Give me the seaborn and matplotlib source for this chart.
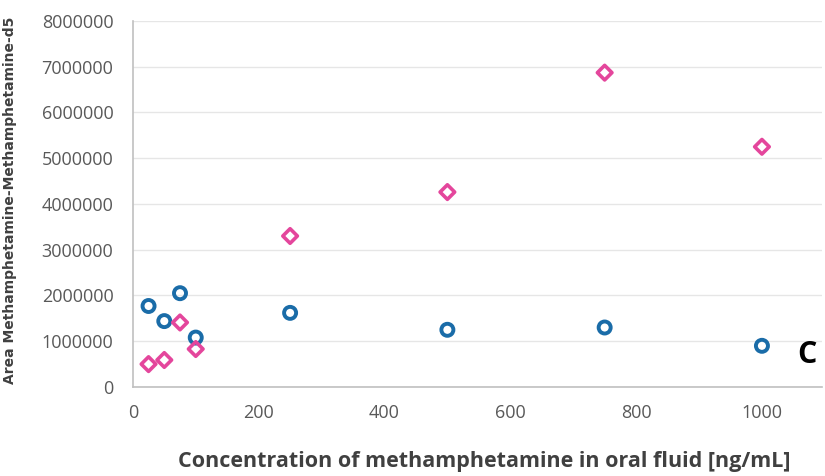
import numpy as np
import pandas as pd
import matplotlib
matplotlib.use("Agg")
import matplotlib.pyplot as plt
import seaborn as sns

# concentrations [ng/mL]
conc = [25, 50, 75, 100, 250, 500, 750, 1000]
# peak areas
area_blue = [1770000, 1440000, 2050000, 1080000, 1620000, 1250000, 1300000, 900000]
area_pink = [500000, 590000, 1410000, 830000, 3300000, 4260000, 6870000, 5250000]

blue = "#1a6ca8"
pink = "#e4469c"

df = pd.DataFrame({"conc": conc, "blue": area_blue, "pink": area_pink})

sns.set_theme(style="white")
plt.rcParams["font.family"] = ["Open Sans", "DejaVu Sans"]

fig = plt.figure(figsize=(8.25, 4.76), dpi=100)
ax = fig.add_axes([0.161, 0.187, 0.835, 0.769])

sns.scatterplot(data=df, x="conc", y="blue", ax=ax, marker="o", s=75,
                facecolor="none", edgecolor=blue, linewidth=2.8, zorder=3)
sns.scatterplot(data=df, x="conc", y="pink", ax=ax, marker="D", s=55,
                facecolor="none", edgecolor=pink, linewidth=2.6, zorder=3)

ax.set_xlim(0, 1095)
ax.set_ylim(0, 8000000)
ax.set_xticks([0, 200, 400, 600, 800, 1000])
ax.set_yticks(np.arange(0, 8000001, 1000000))
ax.set_yticklabels([f"{int(v)}" for v in ax.get_yticks()])
ax.tick_params(axis="both", length=0, labelsize=13, labelcolor="#595959")
ax.tick_params(axis="y", pad=14)
ax.tick_params(axis="x", pad=12)

ax.yaxis.grid(True, color="#e6e6e6", linewidth=1)
ax.set_axisbelow(True)
for side in ["top", "right"]:
    ax.spines[side].set_visible(False)
for side in ["left", "bottom"]:
    ax.spines[side].set_color("#c0c0c0")
    ax.spines[side].set_linewidth(1.2)

ax.set_xlabel("Concentration of methamphetamine in oral fluid [ng/mL]",
              fontsize=15.5, fontweight="bold", color="#404040")
ax.xaxis.set_label_coords(0.51, -0.175)
ax.set_ylabel("Area Methamphetamine-Methamphetamine-d5", family="DejaVu Sans",
              fontsize=10, fontweight="bold", color="#404040")
ax.yaxis.set_label_coords(-0.168, 0.51)

fig.text(0.978, 0.255, "C", fontsize=22, fontweight="bold", color="black",
         ha="center", va="center")

fig.savefig("out.png", dpi=100)
